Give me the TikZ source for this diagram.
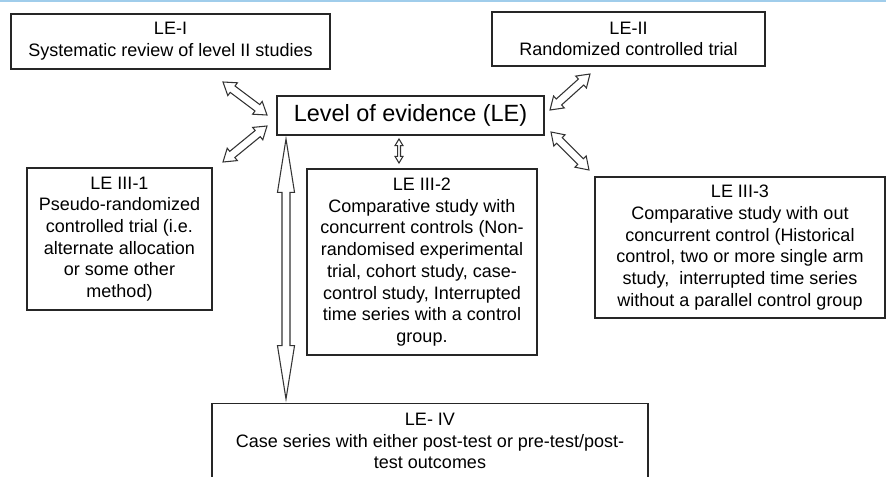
\documentclass[tikz,border=0pt]{standalone}
\usepackage{fontspec}
\setmainfont{Liberation Sans}
\usetikzlibrary{calc}

% hollow double arrow from #1 to #2: head length #3, head half width #4, shaft half width #5
\newcommand{\dblarrow}[5]{%
\draw[arr] (#1) -- ($(#1)!#3!(#2)!#4!90:(#2)$) -- ($(#1)!#3!(#2)!#5!90:(#2)$)
 -- ($(#2)!#3!(#1)!#5!-90:(#1)$) -- ($(#2)!#3!(#1)!#4!-90:(#1)$) -- (#2)
 -- ($(#2)!#3!(#1)!#4!90:(#1)$) -- ($(#2)!#3!(#1)!#5!90:(#1)$)
 -- ($(#1)!#3!(#2)!#5!-90:(#2)$) -- ($(#1)!#3!(#2)!#4!-90:(#2)$) -- cycle;}

\begin{document}
\begin{tikzpicture}[x=0.75pt,y=-0.75pt,
box/.style={draw=black!85,line width=0.9pt,align=center,inner sep=0pt,font=\fontsize{13.5}{16.3}\selectfont},
arr/.style={draw=black!80,line width=0.8pt,fill=white,line join=miter}]
\clip (0,0) rectangle (886,476);
\draw[color={rgb,255:red,160;green,205;blue,235},line width=1.5pt] (0,1) -- (886,1);

\node[box,minimum width=239.25pt,minimum height=41.25pt] at (170.5,41.5) (le1) {LE-I\\Systematic review of level II studies};
\node[box,minimum width=204.75pt,minimum height=40.5pt] at (628.5,39) (le2) {LE-II\\Randomized controlled trial};
\node[box,minimum width=200.25pt,minimum height=29.25pt,font=\fontsize{17.6}{21}\selectfont] at (410.5,115.5) (lev) {Level of evidence (LE)};
\node[box,minimum width=138.75pt,minimum height=106.5pt] at (119.5,239) (le31) {LE III-1\\Pseudo-randomized\\controlled trial (i.e.\\alternate allocation\\or some other\\method)};
\node[box,minimum width=172.5pt,minimum height=139.5pt] at (422,262) (le32) {LE III-2\\Comparative study with\\concurrent controls (Non-\\randomised experimental\\trial, cohort study, case-\\control study, Interrupted\\time series with a control\\group.};
\node[box,minimum width=217.5pt,minimum height=105.75pt] at (740,247.5) (le33) {LE III-3\\Comparative study with out\\concurrent control (Historical\\control, two or more single arm\\study, \ interrupted time series\\without a parallel control group};
\node[box,minimum width=327pt,inner ysep=7pt,anchor=north] at (430,403) (le4) {LE- IV\\Case series with either post-test or pre-test/post-\\test outcomes};

\coordinate (a1) at (223,82);
\coordinate (b1) at (267,115);
\coordinate (a2) at (223,162);
\coordinate (b2) at (267,126);
\coordinate (a3) at (590,74);
\coordinate (b3) at (550,110);
\coordinate (a4) at (589,170);
\coordinate (b4) at (551,132);
\coordinate (a5) at (399,139);
\coordinate (b5) at (399,163);
\coordinate (a6) at (286,139);
\coordinate (b6) at (286,399);

\dblarrow{a1}{b1}{9pt}{6pt}{3pt}
\dblarrow{a2}{b2}{9pt}{6pt}{3pt}
\dblarrow{a3}{b3}{9pt}{6pt}{3pt}
\dblarrow{a4}{b4}{9pt}{6pt}{3pt}
\dblarrow{a5}{b5}{5pt}{3pt}{1.1pt}
\dblarrow{a6}{b6}{40pt}{6.4pt}{3pt}
\end{tikzpicture}
\end{document}
